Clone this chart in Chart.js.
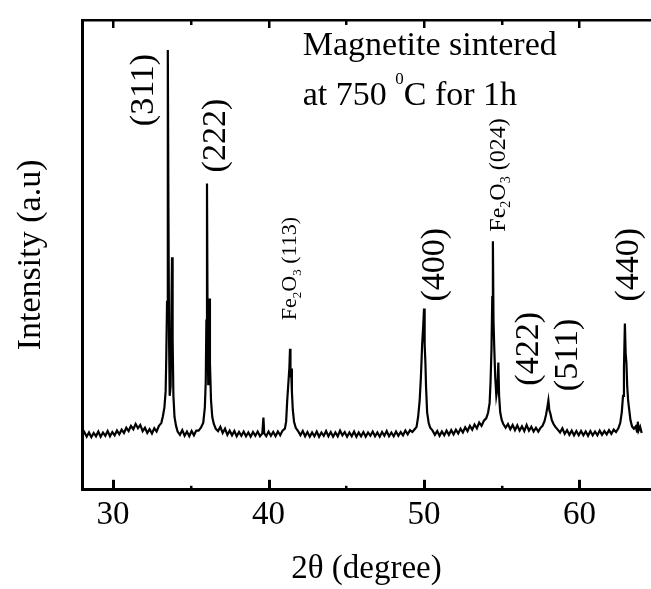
<!DOCTYPE html>
<html>
<head>
<meta charset="utf-8">
<title>XRD - magnetite sintered at 750 C</title>
<script src="https://cdn.jsdelivr.net/npm/chart.js@4.4.1/dist/chart.umd.min.js"></script>
<style>
    html, body { margin: 0; padding: 0; background: #fff; }
    canvas { display: block; }
</style>
</head>
<body>
<canvas id="xrdChart" width="651" height="589"></canvas>
<script>
// 2theta (degree)
const twoTheta = [
    28.0, 28.15, 28.3, 28.45, 28.6, 28.75, 28.9, 29.05, 29.2, 29.35, 29.5, 29.65, 29.8, 29.95,
    30.1, 30.25, 30.4, 30.55, 30.7, 30.85, 31.0, 31.15, 31.3, 31.45, 31.6, 31.75, 31.9, 32.05,
    32.2, 32.35, 32.5, 32.65, 32.8, 32.95, 33.1, 33.2, 33.3, 33.38, 33.42, 33.47, 33.51, 33.53,
    33.56, 33.6, 33.64, 33.7, 33.75, 33.79, 33.83, 33.88, 33.95, 34.05, 34.15, 34.3, 34.45, 34.6,
    34.75, 34.9, 35.05, 35.2, 35.35, 35.5, 35.65, 35.8, 35.9, 35.96, 36.0, 36.04, 36.08, 36.12,
    36.16, 36.19, 36.23, 36.3, 36.38, 36.48, 36.6, 36.75, 36.9, 37.05, 37.2, 37.35, 37.5, 37.65,
    37.8, 37.95, 38.1, 38.25, 38.4, 38.55, 38.7, 38.85, 39.0, 39.15, 39.3, 39.45, 39.6, 39.67,
    39.72, 39.85, 40.0, 40.15, 40.3, 40.45, 40.6, 40.75, 40.9, 41.05, 41.13, 41.2, 41.28, 41.34,
    41.38, 41.41, 41.45, 41.5, 41.56, 41.64, 41.75, 41.9, 42.05, 42.2, 42.35, 42.5, 42.65, 42.8,
    42.95, 43.1, 43.25, 43.4, 43.55, 43.7, 43.85, 44.0, 44.15, 44.3, 44.45, 44.6, 44.75, 44.9,
    45.05, 45.2, 45.35, 45.5, 45.65, 45.8, 45.95, 46.1, 46.25, 46.4, 46.55, 46.7, 46.85, 47.0,
    47.15, 47.3, 47.45, 47.6, 47.75, 47.9, 48.05, 48.2, 48.35, 48.5, 48.65, 48.8, 48.95, 49.1,
    49.25, 49.4, 49.52, 49.62, 49.72, 49.8, 49.88, 49.95, 50.0, 50.04, 50.09, 50.13, 50.2, 50.3,
    50.4, 50.55, 50.7, 50.85, 51.0, 51.15, 51.3, 51.45, 51.6, 51.75, 51.9, 52.05, 52.2, 52.35,
    52.5, 52.65, 52.8, 52.95, 53.1, 53.25, 53.4, 53.55, 53.7, 53.85, 54.0, 54.12, 54.22, 54.28,
    54.34, 54.39, 54.43, 54.47, 54.52, 54.58, 54.65, 54.72, 54.78, 54.83, 54.9, 55.0, 55.1, 55.25,
    55.4, 55.55, 55.7, 55.85, 56.0, 56.15, 56.3, 56.45, 56.6, 56.75, 56.9, 57.05, 57.2, 57.35,
    57.5, 57.62, 57.75, 57.85, 57.93, 58.0, 58.06, 58.13, 58.22, 58.33, 58.45, 58.6, 58.75, 58.9,
    59.05, 59.2, 59.35, 59.5, 59.65, 59.8, 59.95, 60.1, 60.25, 60.4, 60.55, 60.7, 60.85, 61.0,
    61.15, 61.3, 61.45, 61.6, 61.75, 61.9, 62.05, 62.2, 62.35, 62.5, 62.62, 62.72, 62.8, 62.86,
    62.92, 62.97, 63.02, 63.07, 63.13, 63.2, 63.28, 63.38, 63.5, 63.62, 63.7, 63.75, 63.8, 63.9,
    64.0
];

// intensity (a.u.), same order as twoTheta
const intensity = [
    11.4, 12.3, 11.3, 12.2, 11.2, 12.1, 11.4, 12.4, 11.3, 12.2, 11.5, 12.5, 11.4, 12.3,
    11.6, 12.6, 11.8, 12.8, 12.1, 13.2, 12.5, 13.6, 12.9, 14.0, 13.1, 13.8, 12.5, 13.2,
    12.1, 12.9, 12.0, 13.1, 12.4, 13.6, 14.2, 15.6, 17.5, 21, 28, 40, 70, 93.6,
    60, 32, 20, 22, 38, 49.5, 32, 20, 15.5, 13.6, 12.4, 11.7, 12.7, 11.5,
    12.4, 11.4, 12.5, 11.6, 12.6, 12.6, 13.2, 14.3, 17.5, 23, 36, 65.2, 34, 22.5,
    30, 40.7, 27, 19, 15.5, 14, 13.0, 12.5, 13.4, 12.1, 13.0, 11.7, 12.6, 11.6,
    12.5, 11.4, 12.3, 11.5, 12.4, 11.4, 12.2, 11.3, 12.3, 11.5, 12.4, 11.4, 12.0, 15.4,
    12.0, 11.4, 12.4, 11.5, 12.3, 11.4, 12.4, 11.6, 12.6, 13.0, 14.5, 19, 23, 26,
    30, 24, 25.8, 21, 17, 14.5, 13.2, 12.5, 11.6, 12.5, 11.4, 12.3, 11.3, 12.2,
    11.4, 12.4, 11.3, 12.2, 11.5, 12.5, 11.4, 12.3, 11.3, 12.2, 11.4, 12.6, 11.6, 12.3,
    11.3, 12.2, 11.4, 12.4, 11.3, 12.2, 11.4, 12.3, 11.3, 12.2, 11.5, 12.4, 11.4, 12.2,
    11.3, 12.3, 11.5, 12.5, 11.4, 12.2, 11.4, 12.4, 11.5, 12.3, 11.6, 12.6, 11.8, 12.7,
    12.3, 12.9, 13.4, 15.5, 19, 24, 31, 35, 38.6, 31, 27, 22, 16.5, 14.2,
    13.2, 12.6, 11.7, 12.5, 11.5, 12.4, 11.6, 12.6, 11.7, 12.7, 11.8, 12.8, 12.0, 13.0,
    12.2, 13.3, 12.5, 13.6, 12.8, 13.9, 13.1, 14.3, 13.6, 14.7, 15.2, 16.4, 18.5, 23,
    30, 41, 52.9, 36, 30, 24, 20, 21.5, 27.1, 20, 16.5, 14.8, 14.0, 13.2,
    14.0, 12.9, 13.8, 12.7, 13.7, 12.6, 13.5, 12.5, 13.8, 12.6, 13.4, 12.4, 13.2, 12.4,
    13.2, 13.6, 14.6, 16.0, 17.5, 19.0, 17.0, 16.2, 14.8, 14.0, 13.4, 12.8, 12.2, 13.1,
    11.9, 12.7, 11.7, 12.6, 11.6, 12.5, 11.6, 12.5, 11.6, 12.4, 11.5, 12.5, 11.6, 12.4,
    11.6, 12.6, 11.7, 12.5, 11.8, 12.7, 11.9, 12.8, 12.3, 13.1, 14.2, 16.5, 20, 26,
    35.4, 29, 27, 22, 19, 17, 14.8, 13.5, 13.0, 13.5, 12.4, 14.5, 12.6, 13.4,
    12.1
];

const xMin = 28;
const xMax = 64.6;
const majorTicks = [30, 40, 50, 60];
const minorTicks = [35, 45, 55];

// hkl labels of the magnetite peaks (rotated text)
const peakLabels = ['(311)', '(222)', '(400)', '(422)', '(511)', '(440)'];
const peakLabelX = [31.86, 36.46, 50.57, 56.62, 59.13, 63.05];
const peakLabelY = [85.1, 75.4, 47.9, 30.0, 28.7, 47.9];

// hematite reflections
const hematiteLabels = ['(113)', '(024)'];
const hematiteLabelX = [41.31, 54.69];
const hematiteLabelY = [47.1, 67.0];

const serif = '"Liberation Serif", "Times New Roman", serif';

function drawRotated(ctx, px, py, parts, size) {
    ctx.save();
    ctx.translate(px, py);
    ctx.rotate(-Math.PI / 2);
    ctx.textBaseline = 'alphabetic';
    ctx.textAlign = 'left';
    let total = 0;
    parts.forEach(p => {
        ctx.font = (p.sub ? Math.round(size * 0.6) : size) + 'px ' + serif;
        p.w = ctx.measureText(p.t).width;
        total += p.w;
    });
    let cx = -total / 2;
    parts.forEach(p => {
        ctx.font = (p.sub ? Math.round(size * 0.6) : size) + 'px ' + serif;
        ctx.fillText(p.t, cx, size * 0.33 + (p.sub ? size * 0.22 : 0));
        cx += p.w;
    });
    ctx.restore();
}

const decorations = {
    id: 'decorations',
    afterDraw(chart) {
        const ctx = chart.ctx;
        const xs = chart.scales.x;
        const ys = chart.scales.y;
        const area = chart.chartArea;

        // inward tick marks on bottom and top axes
        ctx.save();
        ctx.fillStyle = '#000';
        majorTicks.forEach(v => {
            const px = Math.round(xs.getPixelForValue(v));
            ctx.fillRect(px - 1, area.bottom - 10, 3, 10);
            ctx.fillRect(px - 1, area.top, 2.5, 8);
        });
        minorTicks.forEach(v => {
            const px = Math.round(xs.getPixelForValue(v));
            ctx.fillRect(px - 1, area.bottom - 4, 2.5, 4);
            ctx.fillRect(px - 1, area.top, 2.5, 5);
        });

        peakLabels.forEach((t, i) => {
            drawRotated(ctx, xs.getPixelForValue(peakLabelX[i]), ys.getPixelForValue(peakLabelY[i]),
                [{ t: t }], 34);
        });
        hematiteLabels.forEach((t, i) => {
            drawRotated(ctx, xs.getPixelForValue(hematiteLabelX[i]), ys.getPixelForValue(hematiteLabelY[i]),
                [{ t: 'Fe' }, { t: '2', sub: true }, { t: 'O' }, { t: '3', sub: true }, { t: ' ' + t }], i === 0 ? 22 : 24);
        });

        // sample note
        const nx = xs.getPixelForValue(42.2);
        ctx.textAlign = 'left';
        ctx.textBaseline = 'alphabetic';
        ctx.font = '34px ' + serif;
        ctx.fillText('Magnetite sintered', nx, ys.getPixelForValue(92.5));
        const by = ys.getPixelForValue(81.9);
        let cx = nx;
        ctx.fillText('at 750 ', cx, by);
        cx += ctx.measureText('at 750 ').width;
        ctx.font = '17px ' + serif;
        ctx.fillText('0', cx, by - 21);
        cx += ctx.measureText('0').width;
        ctx.font = '34px ' + serif;
        ctx.fillText('C for 1h', cx, by);
        ctx.restore();
    }
};

const ctx = document.getElementById('xrdChart').getContext('2d');

const xrdChart = new Chart(ctx, {
    type: 'line',
    data: {
        datasets: [{
            label: 'Magnetite 750 C',
            data: twoTheta.map((t, i) => ({ x: t, y: intensity[i] })),
            borderColor: '#000',
            borderWidth: 2.2,
            pointRadius: 0,
            tension: 0,
            fill: false
        }]
    },
    options: {
        responsive: false,
        animation: false,
        layout: { padding: { top: 20, right: 0, bottom: 0, left: 0 } },
        plugins: {
            legend: { display: false },
            tooltip: { enabled: false }
        },
        scales: {
            x: {
                type: 'linear',
                position: 'bottom',
                min: xMin,
                max: xMax,
                grid: { display: false, drawTicks: false },
                border: { display: true, color: '#000', width: 3 },
                ticks: {
                    stepSize: 5,
                    includeBounds: false,
                    padding: 6,
                    color: '#000',
                    font: { family: serif, size: 33 },
                    maxRotation: 0,
                    autoSkip: false,
                    callback: v => (v % 10 === 0 ? String(v) : '')
                },
                title: {
                    display: true,
                    text: '2θ (degree)',
                    color: '#000',
                    font: { family: serif, size: 33 },
                    padding: { top: 8, bottom: 0 }
                }
            },
            xTop: {
                type: 'linear',
                position: 'top',
                min: xMin,
                max: xMax,
                grid: { display: false, drawTicks: false },
                border: { display: true, color: '#000', width: 2.5 },
                ticks: { display: false }
            },
            y: {
                min: 0,
                max: 100,
                grid: { display: false, drawTicks: false },
                border: { display: true, color: '#000', width: 3 },
                ticks: { display: false },
                title: {
                    display: true,
                    text: 'Intensity (a.u)',
                    color: '#000',
                    font: { family: serif, size: 34 },
                    padding: { top: 10.6, bottom: 30.6 }
                }
            }
        }
    },
    plugins: [decorations]
});
</script>
</body>
</html>
